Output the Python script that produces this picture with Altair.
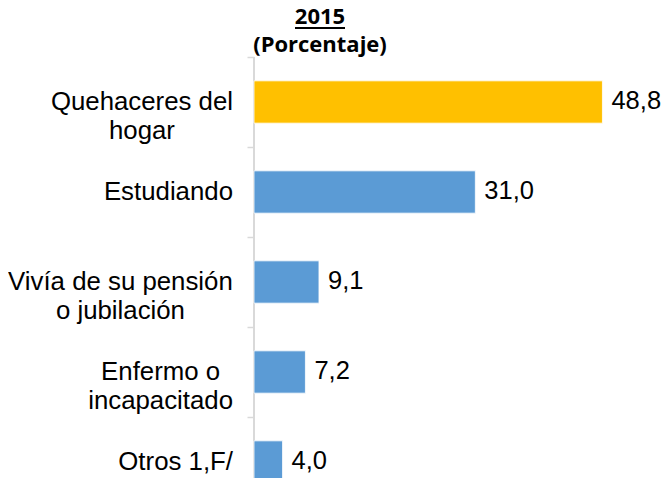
import altair as alt
import pandas as pd

# ---- data ----
categorias = ["Quehaceres del hogar", "Estudiando", "Vivía de su pensión o jubilación",
              "Enfermo o incapacitado", "Otros 1,F/"]
lineas = [["Quehaceres del", "hogar"], ["Estudiando"], ["Vivía de su pensión", "o jubilación"],
          ["Enfermo o", "incapacitado"], ["Otros 1,F/"]]
valores = [48.8, 31.0, 9.1, 7.2, 4.0]
etiquetas = ["48,8", "31,0", "9,1", "7,2", "4,0"]
colores = ["#FFC000", "#5B9BD5", "#5B9BD5", "#5B9BD5", "#5B9BD5"]
titulo = "2015"
subtitulo = "(Porcentaje)"

# ---- layout / style ----
LABEL_FONT = "Liberation Sans"
LABEL_SIZE = 25.8
LABEL_RIGHT = -21          # right edge of category label blocks, px from axis
ARIAL_W = {' ': 278, ',': 278, '/': 278, '1': 556, 'E': 667, 'F': 611, 'O': 778, 'Q': 778,
           'V': 667, 'a': 556, 'b': 556, 'c': 500, 'd': 556, 'e': 556, 'f': 278, 'g': 556,
           'h': 556, 'i': 222, 'í': 278, 'j': 222, 'l': 222, 'm': 833, 'n': 556, 'o': 556,
           'ó': 556, 'p': 556, 'r': 333, 's': 500, 't': 278, 'u': 556, 'v': 500, 'y': 500}


def text_w(s):
    return sum(ARIAL_W.get(ch, 556) for ch in s) / 1000 * LABEL_SIZE


bloque_cx = [LABEL_RIGHT - max(text_w(l) for l in ls) / 2 for ls in lineas]

df = pd.DataFrame({"cat": categorias, "valor": valores, "etq": etiquetas,
                   "color": colores, "cx": bloque_cx})
df["lineas"] = lineas

yscale = alt.Scale(domain=categorias, range=[0, 450], paddingInner=0, paddingOuter=0)
xscale = alt.Scale(domain=[0, 50], nice=False, zero=True)
yaxis = alt.Axis(labels=False, ticks=True, tickBand="extent", tickSize=7,
                 tickColor="#d9d9d9", tickWidth=1.5, domain=False, grid=False, title=None)
Y = alt.Y("cat:N", sort=categorias, scale=yscale, axis=yaxis, title=None)

bars = alt.Chart(df).mark_bar(height=alt.RelativeBandSize(0.47), stroke="white", strokeWidth=0.8).encode(
    y=Y,
    x=alt.X("valor:Q", scale=xscale, axis=None),
    color=alt.Color("color:N", scale=None),
)

vals = alt.Chart(df).mark_text(align="left", baseline="middle", dx=9, dy=-1,
                               font=LABEL_FONT, fontSize=25.5, color="black").encode(
    y=Y,
    x=alt.X("valor:Q", scale=xscale, axis=None),
    text="etq:N",
)

cats = alt.Chart(df).mark_text(align="center", baseline="middle", lineHeight=29,
                               font=LABEL_FONT, fontSize=LABEL_SIZE, color="black").encode(
    y=Y,
    x=alt.X("cx:Q", scale=None, axis=None),
    text="lineas:N",
)

tdf = pd.DataFrame({"t": [titulo], "s": [subtitulo]})
axis_line = alt.Chart(tdf).mark_rule(color="#d9d9d9", strokeWidth=2).encode(
    x=alt.value(0), y=alt.value(0), y2=alt.value(450))
t1 = alt.Chart(tdf).mark_text(align="center", baseline="alphabetic", font="Open Sans",
                              fontWeight="bold", fontSize=22, color="black").encode(
    x=alt.value(66), y=alt.value(-33), text="t:N")
t2 = alt.Chart(tdf).mark_text(align="center", baseline="alphabetic", font="Open Sans",
                              fontWeight="bold", fontSize=22, color="black").encode(
    x=alt.value(66), y=alt.value(-5), text="s:N")
underline = alt.Chart(tdf).mark_rule(color="black", strokeWidth=2).encode(
    x=alt.value(41), x2=alt.value(91), y=alt.value(-29))

chart = alt.layer(axis_line, bars, vals, cats, t1, t2, underline).resolve_scale(x="independent").properties(
    width=357, height=421,
    autosize=alt.AutoSizeParams(type="none"),
    padding={"left": 246, "top": 49, "right": 51, "bottom": 0},
).configure_view(stroke=None)

chart.save("out.html", embed_options={"renderer": "svg", "actions": False})
